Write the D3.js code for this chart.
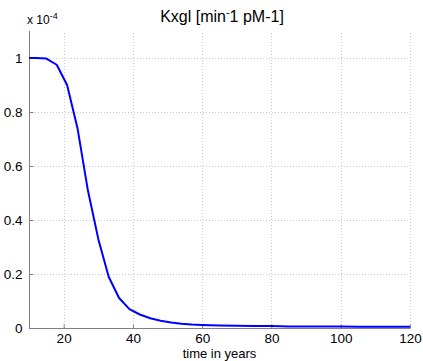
<!DOCTYPE html>
<html>
<head>
<meta charset="utf-8">
<script src="https://cdn.jsdelivr.net/npm/d3@7"></script>
<style>
  body { margin: 0; background: #fff; }
  text { font-family: "Liberation Sans", Arial, sans-serif; }
</style>
</head>
<body>
<div id="chart"></div>
<script>
const width = 423;
const height = 361;

// data (value in units of 1e-4)
const years = [10, 12, 15, 18, 21, 24, 27, 30, 33, 36, 39, 42, 45, 48, 51, 54, 57, 60,
    65, 70, 75, 80, 85, 90, 95, 100, 105, 110, 115, 120];
const kxgl = [1.0, 1.0, 0.998, 0.975, 0.90, 0.74, 0.51, 0.33, 0.19, 0.111, 0.07, 0.05,
    0.036, 0.027, 0.02, 0.016, 0.013, 0.011, 0.009, 0.008, 0.007, 0.007, 0.006, 0.006,
    0.006, 0.006, 0.005, 0.005, 0.005, 0.005];
const xTicks = [20, 40, 60, 80, 100, 120];
const yTicks = [0, 0.2, 0.4, 0.6, 0.8, 1];

const margin = { top: 31, right: 13, bottom: 33, left: 29 };

const svg = d3.select("#chart")
    .append("svg")
    .attr("width", width)
    .attr("height", height);

const x = d3.scaleLinear().domain([10, 120]).range([margin.left, width - margin.right]);
const y = d3.scaleLinear().domain([0, 1.1]).range([height - margin.bottom, margin.top]);

// grid
const grid = svg.append("g")
    .attr("stroke", "#c8c8c8")
    .attr("stroke-width", 1)
    .attr("stroke-dasharray", "1,2");

grid.selectAll(".gx")
    .data(xTicks)
    .enter().append("line")
    .attr("x1", d => Math.round(x(d)) + 0.5)
    .attr("x2", d => Math.round(x(d)) + 0.5)
    .attr("y1", y(0))
    .attr("y2", y(1.1));

grid.selectAll(".gy")
    .data(yTicks.filter(d => d > 0))
    .enter().append("line")
    .attr("x1", x(10))
    .attr("x2", x(120))
    .attr("y1", d => Math.round(y(d)) + 0.5)
    .attr("y2", d => Math.round(y(d)) + 0.5);

// axes
const xAxis = svg.append("g")
    .attr("transform", `translate(0,${Math.round(y(0)) + 0.5})`)
    .call(d3.axisBottom(x).tickValues(xTicks).tickSize(-4).tickPadding(5).tickFormat(d3.format("d")));

const yAxis = svg.append("g")
    .attr("transform", `translate(${Math.round(x(10)) + 0.5},0)`)
    .call(d3.axisLeft(y).tickValues(yTicks).tickSize(-4).tickPadding(7).tickFormat(d => d3.format("")(d)));

[xAxis, yAxis].forEach(a => {
    a.select(".domain").attr("stroke", "#808080");
    a.selectAll(".tick line").attr("stroke", "#808080");
    a.selectAll(".tick text")
        .attr("fill", "#000")
        .attr("font-size", 13.5)
        .attr("font-family", "'Liberation Sans', Arial, sans-serif");
});
xAxis.select(".domain").attr("d", `M${x(10)},0H${x(120)}`);
yAxis.select(".domain").attr("d", `M0,${y(0)}V${y(1.1)}`);

// line
const line = d3.line()
    .x((d, i) => x(years[i]))
    .y(d => y(d));

svg.append("path")
    .datum(kxgl)
    .attr("fill", "none")
    .attr("stroke", "#0000ff")
    .attr("stroke-width", 2)
    .attr("stroke-linejoin", "round")
    .attr("d", line);

// title
const title = svg.append("text")
    .attr("x", 222)
    .attr("y", 22)
    .attr("text-anchor", "middle")
    .attr("font-size", 16)
    .attr("fill", "#000");
title.append("tspan").text("Kxgl [min");
title.append("tspan").attr("dy", -6).attr("font-size", 11).text("-");
title.append("tspan").attr("dy", 6).text("1 pM-1]");

// exponent label
const expo = svg.append("text")
    .attr("x", 27)
    .attr("y", 24)
    .attr("font-size", 12)
    .attr("fill", "#000");
expo.append("tspan").text("x 10");
expo.append("tspan").attr("dy", -5).attr("font-size", 9).text("-4");

// x label
svg.append("text")
    .attr("x", (x(10) + x(120)) / 2)
    .attr("y", 358)
    .attr("text-anchor", "middle")
    .attr("font-size", 13)
    .attr("fill", "#000")
    .text("time in years");
</script>
</body>
</html>
